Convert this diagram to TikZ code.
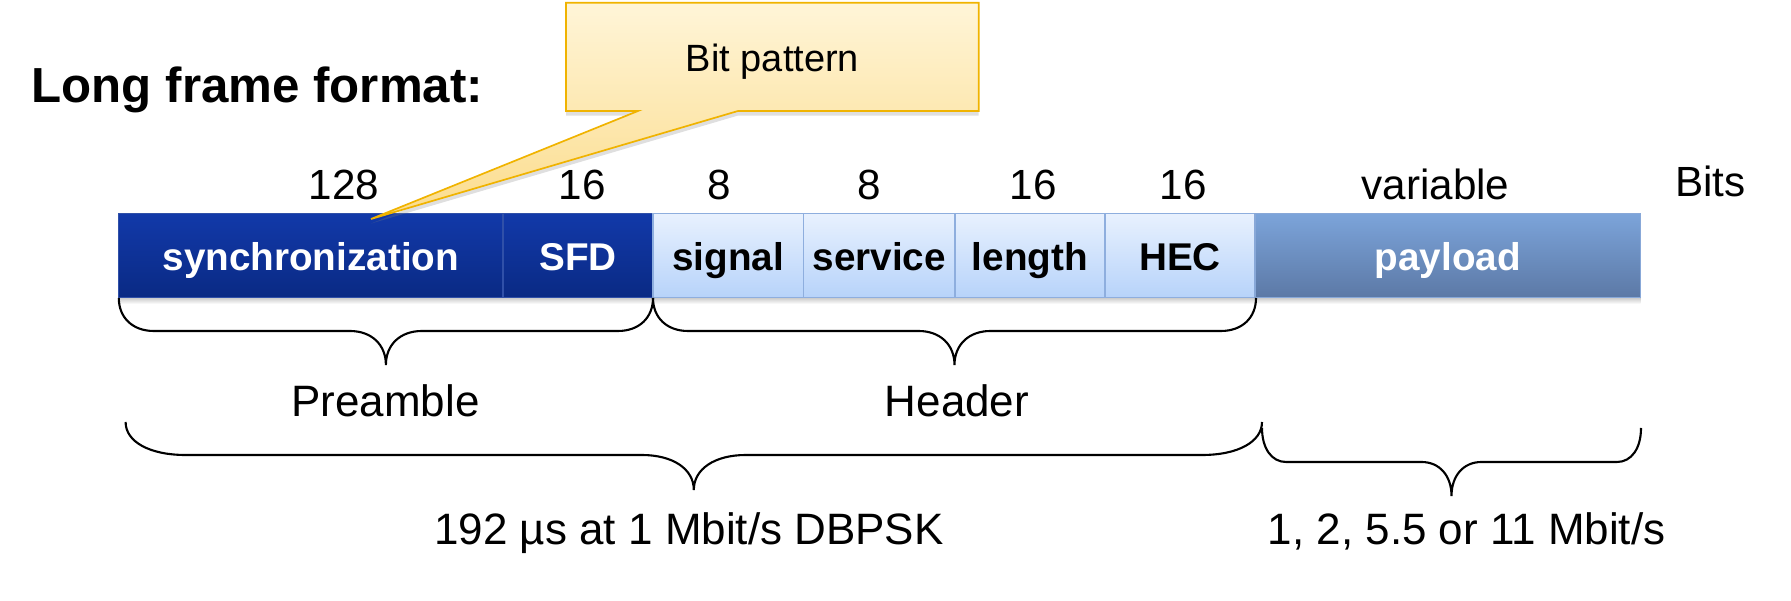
\documentclass[tikz,border=0pt]{standalone}
\usepackage{fontspec}
\setmainfont{Liberation Sans}
\usetikzlibrary{shadows}

\definecolor{syncTop}{HTML}{1239A9}
\definecolor{syncBot}{HTML}{0A2A84}
\definecolor{syncLine}{HTML}{3050A8}
\definecolor{hdrTop}{HTML}{E8F1FE}
\definecolor{hdrBot}{HTML}{B7D3FA}
\definecolor{hdrLine}{HTML}{8EAEDE}
\definecolor{payTop}{HTML}{7CA4DA}
\definecolor{payBot}{HTML}{5C79A6}
\definecolor{payLine}{HTML}{88A8D8}
\definecolor{noteTop}{HTML}{FFF5D8}
\definecolor{noteBot}{HTML}{FBDC8C}
\definecolor{noteLine}{HTML}{F0B300}

\begin{document}
\begin{tikzpicture}[x=0.01cm,y=-0.01cm,
  dark/.style={top color=syncTop,bottom color=syncBot,draw=syncLine,line width=0.3pt},
  light/.style={top color=hdrTop,bottom color=hdrBot,draw=hdrLine,line width=0.3pt},
  pay/.style={top color=payTop,bottom color=payBot,draw=payLine,line width=0.3pt},
  fieldtxt/.style={anchor=base,inner sep=0pt,font=\fontsize{11}{13}\selectfont\bfseries},
  bitstxt/.style={anchor=base,inner sep=0pt,font=\fontsize{12}{14}\selectfont},
  bigtxt/.style={anchor=base,inner sep=0pt,font=\fontsize{12.5}{15}\selectfont},
  curly/.style={line width=0.6pt}]
\useasboundingbox (0,0) rectangle (1791,601);

\node[anchor=base west,inner sep=0pt,font=\fontsize{14}{17}\selectfont\bfseries] (title) at (31,103) {Long frame format:};

%shadow under the frame
\shade[top color=black!22,bottom color=white] (118.6,297.3) rectangle (1640.6,304);

%fields with bit counts
\foreach \xa/\xb/\xn/\nb/\lab/\sty/\fc in {
  118.6/503/344/128/synchronization/dark/white,
  503/653/582/16/SFD/dark/white,
  653/803.6/719/8/signal/light/black,
  803.6/955/869/8/service/light/black,
  955/1105/1033/16/length/light/black,
  1105/1255/1183/16/HEC/light/black,
  1255/1640.6/1435.5/variable/payload/pay/white} {
\path[\sty] (\xa,213.5) rectangle (\xb,297.3);
\node[fieldtxt,text=\fc] (\lab) at ({(\xa+\xb)/2},271) {\lab};
\node[bitstxt] (bits-\lab) at (\xn,200) {\nb};
}
\node[bitstxt] (bitsunit) at (1710.5,197) {Bits};

%callout
\path[top color=noteTop,bottom color=noteBot,draw=noteLine,line width=0.48pt,
  drop shadow={opacity=0.25,shadow xshift=0pt,shadow yshift=-1.3pt}]
  (566,2.7) -- (978.7,2.7) -- (978.7,111) -- (738,111) -- (371,219) -- (638,111) -- (566,111) -- cycle;
\node[anchor=base,inner sep=0pt,font=\fontsize{10.8}{13}\selectfont] (bitpat) at (772.5,72) {Bit pattern};

%braces
\foreach \xl/\xr/\yt/\ym/\yp/\re/\rm in {
  118.8/653/298/331/365/35/36,
  653/1256/298/331/365/35/36,
  125.6/1262/422/455/490/60/52,
  1262/1641/428/462/496/24/30} {
\pgfmathsetmacro\xc{(\xl+\xr)/2}
\draw[curly] (\xl,\yt) .. controls (\xl,{\yt+0.6*(\ym-\yt)}) and ({\xl+0.4*\re},\ym) .. (\xl+\re,\ym)
  -- (\xc-\rm,\ym) .. controls ({\xc-0.4*\rm},\ym) and (\xc,{\ym+0.4*(\yp-\ym)}) .. (\xc,\yp)
  .. controls (\xc,{\ym+0.4*(\yp-\ym)}) and ({\xc+0.4*\rm},\ym) .. (\xc+\rm,\ym)
  -- (\xr-\re,\ym) .. controls ({\xr-0.4*\re},\ym) and (\xr,{\yt+0.6*(\ym-\yt)}) .. (\xr,\yt);
}

\node[bigtxt] (preamble) at (385.5,417) {Preamble};
\node[bigtxt] (header) at (957,417) {Header};
\node[bigtxt] (duration) at (689,545) {192 µs at 1 Mbit/s DBPSK};
\node[bigtxt] (rates) at (1466.6,545) {1, 2, 5.5 or 11 Mbit/s};
\end{tikzpicture}
\end{document}
